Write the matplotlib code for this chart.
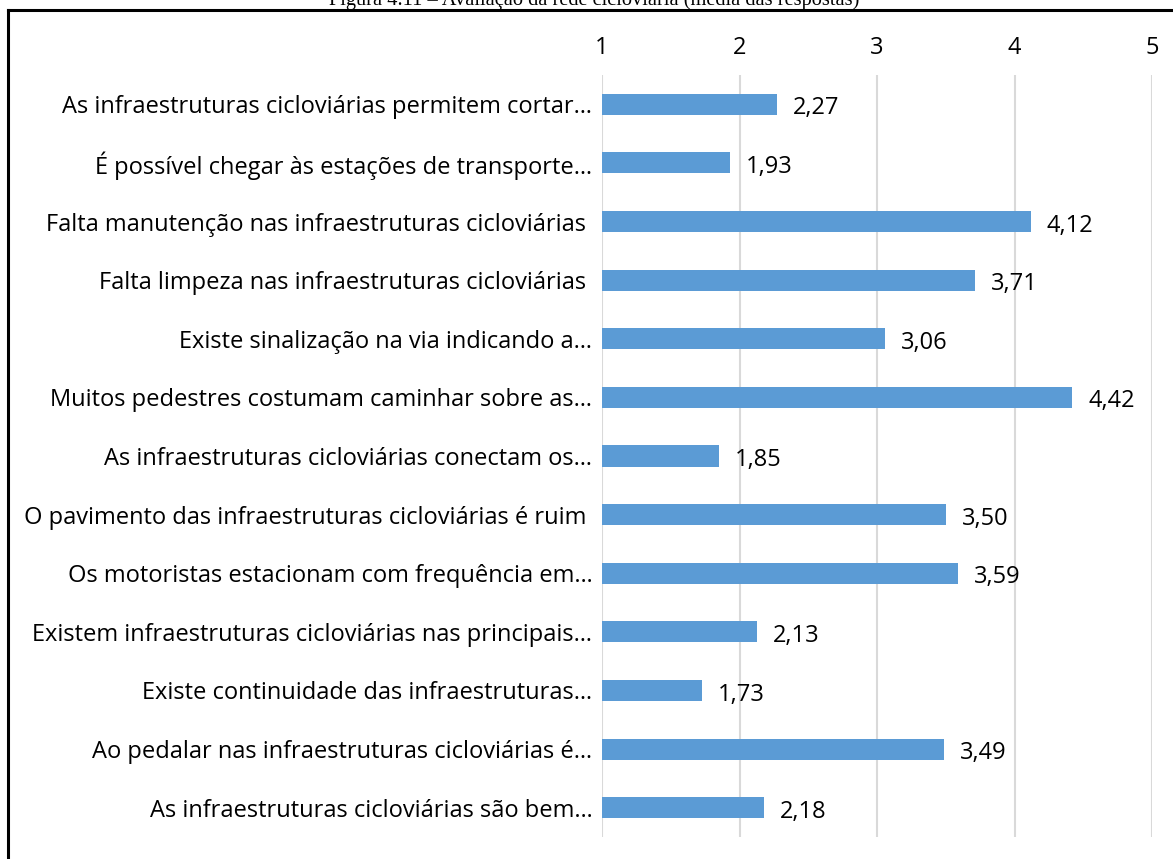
import matplotlib
matplotlib.use("Agg")
import matplotlib.pyplot as plt
from matplotlib.lines import Line2D

categories = [
    "As infraestruturas cicloviárias permitem cortar…",
    "É possível chegar às estações de transporte…",
    "Falta manutenção nas infraestruturas cicloviárias ",
    "Falta limpeza nas infraestruturas cicloviárias ",
    "Existe sinalização na via indicando a…",
    "Muitos pedestres costumam caminhar sobre as…",
    "As infraestruturas cicloviárias conectam os…",
    "O pavimento das infraestruturas cicloviárias é ruim ",
    "Os motoristas estacionam com frequência em…",
    "Existem infraestruturas cicloviárias nas principais…",
    "Existe continuidade das infraestruturas…",
    "Ao pedalar nas infraestruturas cicloviárias é…",
    "As infraestruturas cicloviárias são bem…",
]
values = [2.27, 1.93, 4.12, 3.71, 3.06, 4.42, 1.85, 3.50, 3.59, 2.13, 1.73, 3.49, 2.18]
xticks = [1, 2, 3, 4, 5]
title = "Figura 4.11 – Avaliação da rede cicloviária (média das respostas)"

W, H = 1173, 859
fig = plt.figure(figsize=(W / 100, H / 100), dpi=100)
ax = fig.add_axes([602 / W, 1 - 837 / H, (1152 - 602) / W, (837 - 75) / H])

font = "Open Sans"
fs = 17
ypos = list(range(len(categories)))
ax.barh(ypos, [v - 1 for v in values], left=1, height=0.36, color="#5B9BD5", zorder=3)
for y, v in zip(ypos, values):
    ax.text(v + 0.115, y + 0.07, f"{v:.2f}".replace(".", ","), va="center", ha="left",
            fontsize=fs, family=font, color="black")

ax.set_xlim(1, 5)
ax.set_ylim(len(categories) - 0.5, -0.5)
ax.set_xticks(xticks)
ax.set_xticklabels([str(t) for t in xticks], family=font, fontsize=fs)
ax.xaxis.tick_top()
ax.tick_params(axis="x", length=0, pad=10.5)
ax.set_yticks(ypos)
ax.set_yticklabels(categories, family=font, fontsize=fs)
ax.tick_params(axis="y", length=0, pad=7)
ax.grid(axis="x", color="#D9D9D9", linewidth=1.5, zorder=0)
for s in ax.spines.values():
    s.set_visible(False)

# page frame
fig.add_artist(Line2D([8 / W, 8 / W], [0, 1 - 10 / H], transform=fig.transFigure, color="black", lw=2.2))
fig.add_artist(Line2D([8 / W, 1], [1 - 10 / H, 1 - 10 / H], transform=fig.transFigure, color="black", lw=2.2))
fig.text(594 / W, 1 - 5 / H, title, ha="center", va="baseline", family="Liberation Serif", fontsize=14.7)

fig.savefig("out.png", dpi=100)
